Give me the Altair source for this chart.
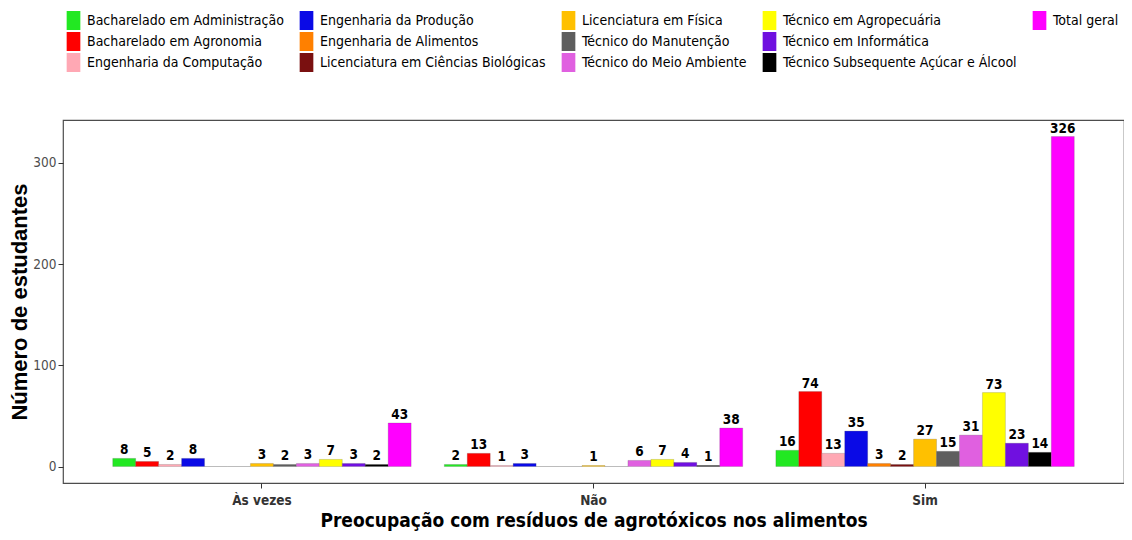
import altair as alt
import pandas as pd

groups = ["Às vezes", "Não", "Sim"]
courses = [
    "Bacharelado em Administração",
    "Bacharelado em Agronomia",
    "Engenharia da Computação",
    "Engenharia da Produção",
    "Engenharia de Alimentos",
    "Licenciatura em Ciências Biológicas",
    "Licenciatura em Física",
    "Técnico do Manutenção",
    "Técnico do Meio Ambiente",
    "Técnico em Agropecuária",
    "Técnico em Informática",
    "Técnico Subsequente Açúcar e Álcool",
    "Total geral",
]
colors = [
    "#22e822", "#ff0000", "#ffa8b4", "#0a0ae6", "#ff8000", "#7a1010",
    "#ffc000", "#5e5e5e", "#e060e0", "#ffff00", "#7010e0", "#000000", "#ff00ff",
]
as_vezes = [8, 5, 2, 8, 0, 0, 3, 2, 3, 7, 3, 2, 43]
nao = [2, 13, 1, 3, 0, 0, 1, 0, 6, 7, 4, 1, 38]
sim = [16, 74, 13, 35, 3, 2, 27, 15, 31, 73, 23, 14, 326]

rows = []
for g, vals in zip(groups, [as_vezes, nao, sim]):
    for c, v in zip(courses, vals):
        rows.append({"grupo": g, "curso": c, "n": v})
df = pd.DataFrame(rows)

# legend fills a full 3 x 5 grid column by column: pad with two blank entries
leg_domain = courses + [" ", "  "]
leg_range = colors + ["#ffffff", "#ffffff"]

NARROW = "DejaVu Sans Condensed, sans-serif"
WIDE = "Liberation Sans, Arial, sans-serif"

x_enc = alt.X(
    "grupo:N", sort=groups,
    scale=alt.Scale(paddingInner=0.1, paddingOuter=0.15),
    axis=alt.Axis(
        title="Preocupação com resíduos de agrotóxicos nos alimentos",
        labelAngle=0, labelFont=NARROW, labelFontSize=13.5, labelFontWeight="bold",
        labelColor="#333333", labelPadding=5, tickSize=5, tickColor="#333333",
        domain=False, titleFont=NARROW, titleFontSize=19, titleFontWeight="bold",
        titleColor="#000000", titlePadding=5,
    ),
)
xoff = alt.XOffset("curso:N", sort=courses, scale=alt.Scale(paddingInner=0, paddingOuter=0))

bars = alt.Chart(df).mark_bar(stroke="#444444", strokeWidth=0.4, strokeOpacity=0.5).encode(
    x=x_enc,
    xOffset=xoff,
    y=alt.Y(
        "n:Q",
        scale=alt.Scale(domain=[-16.3, 342.3], nice=False, zero=False),
        axis=alt.Axis(
            title="Número de estudantes", values=[0, 100, 200, 300], grid=False,
            labelFont=NARROW, labelFontSize=13.5, labelColor="#4d4d4d",
            labelPadding=2, tickSize=5, tickColor="#333333", domain=False,
            titleFont=WIDE, titleFontSize=22,
            titleFontWeight="bold", titleColor="#000000", titlePadding=1,
        ),
    ),
    y2=alt.datum(0),
    color=alt.Color(
        "curso:N",
        scale=alt.Scale(domain=leg_domain, range=leg_range),
        legend=alt.Legend(
            title=None, orient="none", legendX=1, legendY=-109, columns=5,
            symbolType="M-0.72,-1L0.72,-1L0.72,1L-0.72,1Z", symbolSize=361,
            symbolStrokeWidth=0, symbolOpacity=1, labelFont=NARROW, labelFontSize=14,
            labelColor="#000000", labelOffset=4, rowPadding=2, columnPadding=13,
            labelLimit=400, labelExpr="trim(datum.label)",
        ),
    ),
)

labels = alt.Chart(df).transform_filter("datum.n > 0").mark_text(
    baseline="bottom", dy=-1, font=NARROW, fontSize=13.5, fontWeight="bold", color="#000000"
).encode(
    x=alt.X("grupo:N", sort=groups),
    xOffset=alt.XOffset("curso:N", sort=courses),
    y=alt.Y("n:Q"),
    text=alt.Text("n:Q"),
)

chart = alt.layer(bars, labels).properties(
    width=1061, height=363,
    autosize=alt.AutoSizeParams(type="none"),
    padding={"left": 55, "top": 112, "right": 0, "bottom": 49},
    background="#ffffff",
).configure_view(stroke="#4d4d4d", strokeWidth=1.2)

chart.save("out.html", embed_options={"renderer": "svg", "actions": False})
